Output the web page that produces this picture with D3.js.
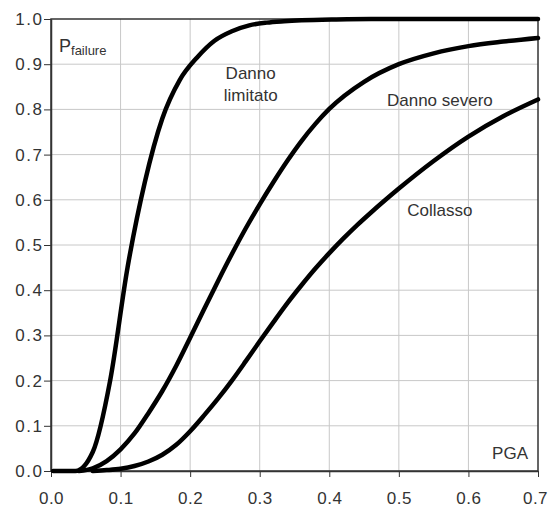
<!DOCTYPE html>
<html>
<head>
<meta charset="utf-8">
<script src="https://cdn.jsdelivr.net/npm/d3@7"></script>
<style>
  body { margin: 0; background: #fff; }
  svg text { font-family: "Liberation Sans", Arial, sans-serif; fill: #333; }
</style>
</head>
<body>
<div id="chart"></div>
<script>
// PGA (g) vs probability of failure
const limitato = [
  [0.003, 0], [0.035, 0], [0.06, 0.042], [0.085, 0.2], [0.11, 0.45], [0.135, 0.64],
  [0.16, 0.78], [0.185, 0.865], [0.21, 0.915], [0.235, 0.952], [0.26, 0.973],
  [0.285, 0.986], [0.31, 0.992], [0.335, 0.995], [0.36, 0.997], [0.41, 0.999],
  [0.46, 1.0], [0.7, 1.0]
];
const severo = [
  [0.04, 0], [0.06, 0.006], [0.08, 0.022], [0.1, 0.048], [0.12, 0.083], [0.14, 0.128],
  [0.16, 0.177], [0.18, 0.233], [0.2, 0.295], [0.22, 0.358], [0.24, 0.42], [0.26, 0.48],
  [0.28, 0.537], [0.30, 0.59], [0.32, 0.64], [0.34, 0.687], [0.36, 0.73], [0.38, 0.768],
  [0.40, 0.801], [0.45, 0.861], [0.5, 0.9], [0.55, 0.924], [0.6, 0.94], [0.65, 0.95],
  [0.7, 0.958]
];
const collasso = [
  [0.06, 0], [0.08, 0.002], [0.1, 0.005], [0.12, 0.011], [0.14, 0.021], [0.16, 0.036],
  [0.18, 0.058], [0.2, 0.088], [0.22, 0.123], [0.24, 0.16], [0.26, 0.2], [0.28, 0.243],
  [0.30, 0.287], [0.32, 0.33], [0.34, 0.372], [0.36, 0.411], [0.38, 0.448], [0.40, 0.482],
  [0.42, 0.514], [0.44, 0.544], [0.46, 0.572], [0.48, 0.599], [0.5, 0.625], [0.55, 0.686],
  [0.6, 0.74], [0.65, 0.785], [0.7, 0.822]
];
const xTicks = [0, 0.1, 0.2, 0.3, 0.4, 0.5, 0.6, 0.7];
const yTicks = [0, 0.1, 0.2, 0.3, 0.4, 0.5, 0.6, 0.7, 0.8, 0.9, 1.0];
const curveLabels = [
  {lines: ["Danno", "limitato"], x: 0.287, y: 0.868},
  {lines: ["Danno severo"], x: 0.559, y: 0.807},
  {lines: ["Collasso"], x: 0.559, y: 0.564}
];

const width = 551, height = 507;
const margin = {top: 19, right: 13, bottom: 36, left: 51};

const svg = d3.select("#chart").append("svg")
  .attr("width", width).attr("height", height);

const x = d3.scaleLinear().domain([0, 0.7]).range([margin.left, width - margin.right]);
const y = d3.scaleLinear().domain([0, 1]).range([height - margin.bottom, margin.top]);

// grid
svg.append("g").selectAll("line")
  .data(xTicks.slice(1, -1)).enter().append("line")
  .attr("x1", d => x(d)).attr("x2", d => x(d))
  .attr("y1", y(0)).attr("y2", y(1))
  .attr("stroke", "#c8c8c8").attr("stroke-width", 1);
svg.append("g").selectAll("line")
  .data(yTicks.slice(1, -1)).enter().append("line")
  .attr("x1", x(0)).attr("x2", x(0.7))
  .attr("y1", d => y(d)).attr("y2", d => y(d))
  .attr("stroke", "#c8c8c8").attr("stroke-width", 1);

// frame
svg.append("rect")
  .attr("x", x(0)).attr("y", y(1))
  .attr("width", x(0.7) - x(0)).attr("height", y(0) - y(1))
  .attr("fill", "none").attr("stroke", "#333").attr("stroke-width", 1.5);

// axes
const xAxis = svg.append("g")
  .attr("transform", `translate(0,${y(0)})`)
  .call(d3.axisBottom(x).tickValues(xTicks).tickFormat(d3.format(".1f")).tickSize(6).tickSizeOuter(0));
const yAxis = svg.append("g")
  .attr("transform", `translate(${x(0)},0)`)
  .call(d3.axisLeft(y).tickValues(yTicks).tickFormat(d3.format(".1f")).tickSize(7).tickSizeOuter(0));

[xAxis, yAxis].forEach(a => {
  a.select(".domain").attr("stroke", "#333").attr("stroke-width", 1.5);
  a.selectAll(".tick line").attr("stroke", "#333");
  a.selectAll(".tick text")
    .attr("font-family", "Liberation Sans, Arial, sans-serif")
    .attr("font-size", 17).attr("fill", "#333");
});
xAxis.selectAll(".tick text").attr("dy", 0).attr("y", 33).style("letter-spacing", "0.5px");
xAxis.selectAll(".tick").filter(d => d === 0.7).select("text").attr("dx", -3);
yAxis.selectAll(".tick text").attr("x", -7.5).style("letter-spacing", "1.5px");

// curves
const line = d3.line().x(d => x(d[0])).y(d => y(d[1])).curve(d3.curveMonotoneX);
[limitato, severo, collasso].forEach(series => {
  svg.append("path").datum(series)
    .attr("d", line)
    .attr("fill", "none")
    .attr("stroke", "#000")
    .attr("stroke-width", 4.5)
    .attr("stroke-linejoin", "round")
    .attr("stroke-linecap", "round");
});

// curve labels
curveLabels.forEach(l => {
  const t = svg.append("text")
    .attr("text-anchor", "middle")
    .attr("font-size", 17);
  l.lines.forEach((s, i) => {
    t.append("tspan").attr("x", x(l.x)).attr("y", y(l.y) + i * 22).text(s);
  });
});

// axis titles inside the plot
const pt = svg.append("text").attr("x", 59).attr("y", 52).attr("font-size", 18);
pt.append("tspan").text("P");
pt.append("tspan").attr("font-size", 13).attr("dy", 3).text("failure");

svg.append("text")
  .attr("x", x(0.7) - 10).attr("y", y(0) - 12)
  .attr("text-anchor", "end")
  .attr("font-size", 17)
  .text("PGA");
</script>
</body>
</html>
